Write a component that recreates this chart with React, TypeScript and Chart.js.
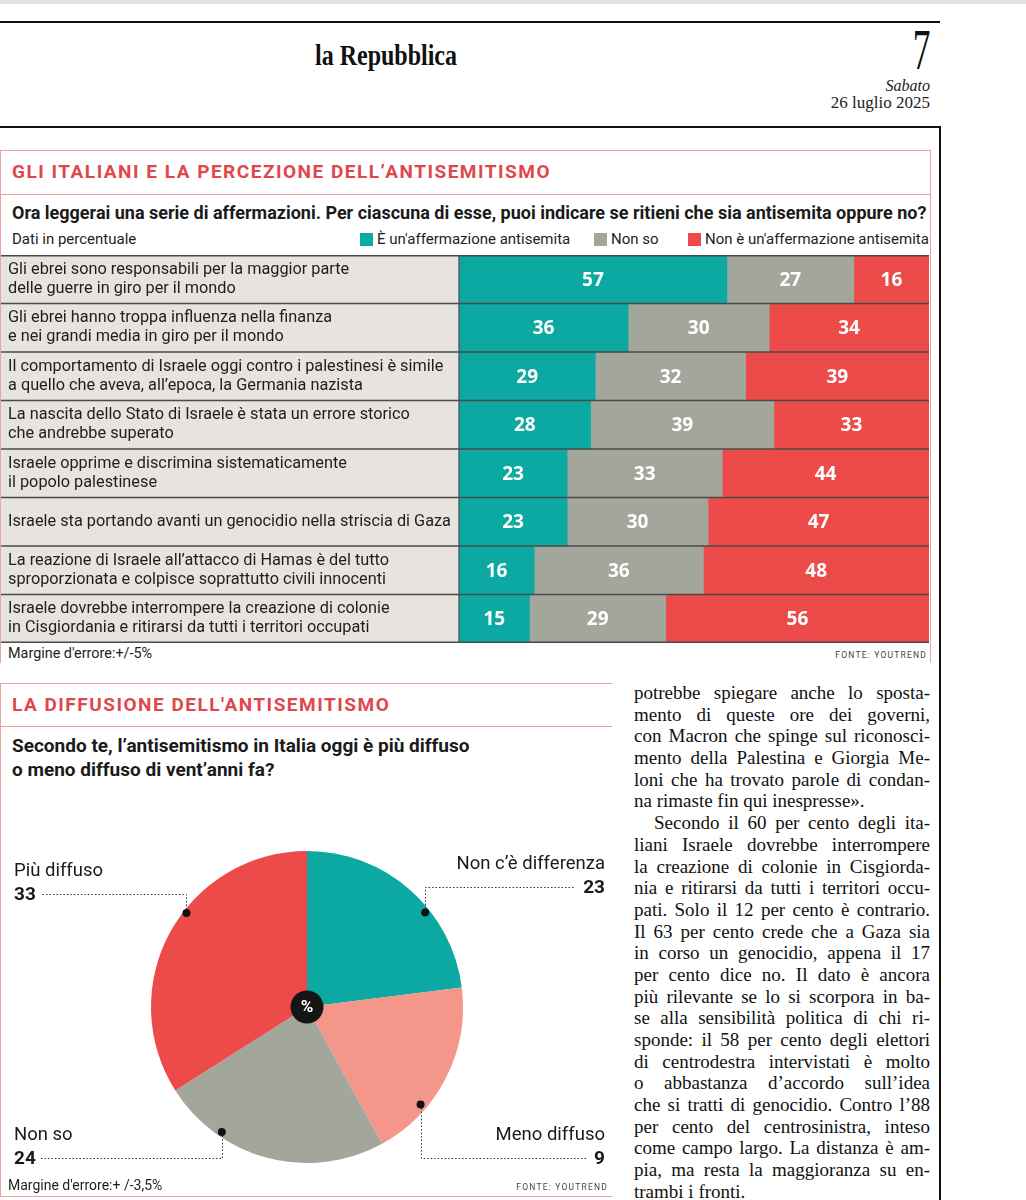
import React, { useEffect, useRef } from "react";
import { Chart, registerables } from "chart.js";

Chart.register(...registerables);

// ---------- DATA ----------
const statements: string[][] = [
  ["Gli ebrei sono responsabili per la maggior parte", "delle guerre in giro per il mondo"],
  ["Gli ebrei hanno troppa influenza nella finanza", "e nei grandi media in giro per il mondo"],
  ["Il comportamento di Israele oggi contro i palestinesi è simile", "a quello che aveva, all’epoca, la Germania nazista"],
  ["La nascita dello Stato di Israele è stata un errore storico", "che andrebbe superato"],
  ["Israele opprime e discrimina sistematicamente", "il popolo palestinese"],
  ["Israele sta portando avanti un genocidio nella striscia di Gaza"],
  ["La reazione di Israele all’attacco di Hamas è del tutto", "sproporzionata e colpisce soprattutto civili innocenti"],
  ["Israele dovrebbe interrompere la creazione di colonie", "in Cisgiordania e ritirarsi da tutti i territori occupati"],
];
const seriesNames = ["È un'affermazione antisemita", "Non so", "Non è un'affermazione antisemita"];
const antisemita = [57, 36, 29, 28, 23, 23, 16, 15];
const nonSo = [27, 30, 32, 39, 33, 30, 36, 29];
const nonAntisemita = [16, 34, 39, 33, 44, 47, 48, 56];

const pieCategories = ["Non c’è differenza", "Meno diffuso", "Non so", "Più diffuso"];
const piePrinted = [23, 9, 24, 33]; // numbers printed next to the slices
const pieDrawn = [23, 19, 24, 34]; // slice sizes as drawn in the graphic

const bodyLines = [
  "potrebbe spiegare anche lo sposta-",
  "mento di queste ore dei governi,",
  "con Macron che spinge sul riconosci-",
  "mento della Palestina e Giorgia Me-",
  "loni che ha trovato parole di condan-",
  "na rimaste fin qui inespresse».",
  "Secondo il 60 per cento degli ita-",
  "liani Israele dovrebbe interrompere",
  "la creazione di colonie in Cisgiorda-",
  "nia e ritirarsi da tutti i territori occu-",
  "pati. Solo il 12 per cento è contrario.",
  "Il 63 per cento crede che a Gaza sia",
  "in corso un genocidio, appena il 17",
  "per cento dice no. Il dato è ancora",
  "più rilevante se lo si scorpora in ba-",
  "se alla sensibilità politica di chi ri-",
  "sponde: il 58 per cento degli elettori",
  "di centrodestra intervistati è molto",
  "o abbastanza d’accordo sull’idea",
  "che si tratti di genocidio. Contro l’88",
  "per cento del centrosinistra, inteso",
  "come campo largo. La distanza è am-",
  "pia, ma resta la maggioranza su en-",
  "trambi i fronti.",
];
const paragraphEnds = [5, 23];
const paragraphStarts = [6];

// ---------- STYLES ----------
const TEAL = "#0ba9a1";
const GRAY = "#a3a69a";
const RED = "#ec4b4a";
const SALMON = "#f4978a";
const CELL = "#e7e3de";
const RULE = "#4a4a4a";
const PINK = "#e9a3a3";
const TITLE_RED = "#e0474c";
const SANS = "Roboto, 'Open Sans', sans-serif";
const SERIF = "'Liberation Serif', 'DejaVu Serif', serif";

// callout layout (side, fraction along arc, radius fraction, number line offset from centre)
const callouts = [
  { side: "right", frac: 0.62, rf: 0.97, dy: -120 },
  { side: "right", frac: 0.7, rf: 0.96, dy: 151 },
  { side: "left", frac: 0.73, rf: 0.97, dy: 151 },
  { side: "left", frac: 0.575, rf: 0.98, dy: -113 },
];

const barPlugin = {
  id: "barCells",
  beforeDraw(chart: any) {
    const { ctx, chartArea } = chart;
    ctx.save();
    ctx.fillStyle = CELL;
    ctx.fillRect(0, chartArea.top, chartArea.left, chartArea.bottom - chartArea.top);
    ctx.restore();
  },
  afterDatasetsDraw(chart: any) {
    const { ctx, chartArea, scales } = chart;
    const y = scales.y;
    ctx.save();
    // number labels
    ctx.fillStyle = "#ffffff";
    ctx.font = `bold 19px 'Open Sans', ${SANS}`;
    ctx.textAlign = "center";
    ctx.textBaseline = "middle";
    chart.data.datasets.forEach((ds: any, di: number) => {
      const meta = chart.getDatasetMeta(di);
      meta.data.forEach((el: any, i: number) => {
        const p = el.getProps(["x", "y", "base"], true);
        ctx.fillText(String(ds.data[i]), (p.x + p.base) / 2, p.y + 1);
      });
    });
    // rules
    ctx.strokeStyle = RULE;
    ctx.lineWidth = 1.5;
    const n = chart.data.labels.length;
    const ys: number[] = [chartArea.top + 0.75];
    for (let i = 0; i < n - 1; i++) {
      ys.push((y.getPixelForValue(i) + y.getPixelForValue(i + 1)) / 2);
    }
    ys.push(chartArea.bottom - 0.75);
    ys.forEach((yy) => {
      ctx.beginPath();
      ctx.moveTo(0, yy);
      ctx.lineTo(chartArea.right, yy);
      ctx.stroke();
    });
    ctx.lineWidth = 1.2;
    ctx.beginPath();
    ctx.moveTo(chartArea.left, chartArea.top);
    ctx.lineTo(chartArea.left, chartArea.bottom);
    ctx.stroke();
    ctx.restore();
  },
};

const piePlugin = {
  id: "pieCallouts",
  afterDraw(chart: any) {
    const { ctx } = chart;
    const meta = chart.getDatasetMeta(0);
    const W = chart.width;
    ctx.save();
    meta.data.forEach((arc: any, i: number) => {
      const p = arc.getProps(["x", "y", "startAngle", "endAngle", "outerRadius"], true);
      const c = callouts[i];
      const a = p.startAngle + c.frac * (p.endAngle - p.startAngle);
      const dx = p.x + Math.cos(a) * p.outerRadius * c.rf;
      const dyy = p.y + Math.sin(a) * p.outerRadius * c.rf;
      const ly = p.y + c.dy;
      const num = String(piePrinted[i]);
      ctx.font = `bold 19px ${SANS}`;
      const nw = ctx.measureText(num).width;
      const leftX = 14;
      const rightX = W - 7;
      // texts
      ctx.fillStyle = "#1a1a1a";
      ctx.textBaseline = "middle";
      ctx.textAlign = c.side === "left" ? "left" : "right";
      const tx = c.side === "left" ? leftX : rightX;
      ctx.fillText(num, tx, ly + 1);
      ctx.font = `18.5px ${SANS}`;
      ctx.fillText(pieCategories[i], tx, ly - 23);
      // leader
      ctx.strokeStyle = "#333";
      ctx.lineWidth = 1;
      ctx.setLineDash([1.5, 2]);
      ctx.beginPath();
      ctx.moveTo(Math.round(dx) + 0.5, dyy);
      ctx.lineTo(Math.round(dx) + 0.5, Math.round(ly) + 0.5);
      if (c.side === "left") ctx.lineTo(leftX + nw + 5, Math.round(ly) + 0.5);
      else ctx.lineTo(rightX - nw - 8, Math.round(ly) + 0.5);
      ctx.stroke();
      ctx.setLineDash([]);
      ctx.fillStyle = "#111";
      ctx.beginPath();
      ctx.arc(dx, dyy, 4, 0, Math.PI * 2);
      ctx.fill();
    });
    // centre badge
    const p0 = meta.data[0].getProps(["x", "y"], true);
    ctx.fillStyle = "#151515";
    ctx.beginPath();
    ctx.arc(p0.x, p0.y, 16.5, 0, Math.PI * 2);
    ctx.fill();
    ctx.fillStyle = "#fff";
    ctx.font = `bold 17px ${SANS}`;
    ctx.textAlign = "center";
    ctx.textBaseline = "middle";
    ctx.fillText("%", p0.x, p0.y + 1);
    ctx.restore();
  },
};

const abs = (o: React.CSSProperties): React.CSSProperties => ({ position: "absolute", ...o });

export default function App() {
  const barRef = useRef<HTMLCanvasElement>(null);
  const pieRef = useRef<HTMLCanvasElement>(null);

  useEffect(() => {
    const bar = new Chart(barRef.current as HTMLCanvasElement, {
      type: "bar",
      data: {
        labels: statements,
        datasets: [
          { label: seriesNames[0], data: antisemita, backgroundColor: TEAL },
          { label: seriesNames[1], data: nonSo, backgroundColor: GRAY },
          { label: seriesNames[2], data: nonAntisemita, backgroundColor: RED },
        ],
      },
      options: {
        indexAxis: "y",
        animation: false,
        responsive: false,
        maintainAspectRatio: false,
        layout: { padding: { left: 7, right: 1, top: 0, bottom: 0 } },
        datasets: { bar: { categoryPercentage: 1, barPercentage: 1, borderWidth: 0 } } as any,
        plugins: { legend: { display: false }, tooltip: { enabled: false } },
        scales: {
          x: { stacked: true, min: 0, max: 100, display: false },
          y: {
            stacked: true,
            grid: { display: false },
            border: { display: false },
            ticks: {
              crossAlign: "far",
              color: "#1e1e1e",
              autoSkip: false,
              font: { family: SANS, size: 16.3, lineHeight: 1.18 },
            },
            afterFit: (s: any) => {
              s.width = 451;
              s.paddingTop = 0;
              s.paddingBottom = 0;
            },
          } as any,
        },
      },
      plugins: [barPlugin],
    });

    const pie = new Chart(pieRef.current as HTMLCanvasElement, {
      type: "pie",
      data: {
        labels: pieCategories,
        datasets: [
          {
            data: pieDrawn,
            backgroundColor: [TEAL, SALMON, GRAY, RED],
            borderWidth: 0,
          },
        ],
      },
      options: {
        animation: false,
        responsive: false,
        maintainAspectRatio: false,
        layout: { padding: { left: 151, right: 149, top: 51, bottom: 37 } },
        plugins: { legend: { display: false }, tooltip: { enabled: false } },
      },
      plugins: [piePlugin],
    });

    return () => {
      bar.destroy();
      pie.destroy();
    };
  }, []);

  const line = (x: number, y: number, w: number, h: number, c: string) => (
    <div style={abs({ left: x, top: y, width: w, height: h, background: c })} />
  );

  return (
    <div
      style={abs({
        left: 0,
        top: 0,
        width: 1026,
        height: 1200,
        background: "#fff",
        overflow: "hidden",
        fontFamily: SANS,
        color: "#1e1e1e",
      })}
    >
      {line(0, 0, 1026, 4, "#e3e3e3")}
      {line(0, 21, 940, 2, "#111")}
      {line(0, 126, 940, 2, "#111")}
      {line(939, 126, 1.5, 1074, "#111")}

      {/* masthead */}
      <div
        style={abs({
          left: 386,
          top: 37,
          lineHeight: "36px",
          fontFamily: SERIF,
          fontWeight: "bold",
          fontSize: 30,
          whiteSpace: "nowrap",
          transform: "translateX(-50%) scaleX(0.8)",
          color: "#111",
        })}
      >
        la Repubblica
      </div>
      <div
        style={abs({
          right: 96,
          top: 21,
          fontFamily: SERIF,
          fontSize: 57,
          lineHeight: "57px",
          transform: "scaleX(0.62)",
          transformOrigin: "right center",
          color: "#111",
        })}
      >
        7
      </div>
      <div style={abs({ right: 96, top: 76, fontFamily: SERIF, fontStyle: "italic", fontSize: 16, lineHeight: "20px", color: "#222" })}>
        Sabato
      </div>
      <div
        style={abs({
          right: 96,
          top: 93,
          fontFamily: SERIF,
          fontSize: 17,
          lineHeight: "20px",
          color: "#222",
          whiteSpace: "nowrap",
        })}
      >
        26 luglio 2025
      </div>

      {/* chart 1 box */}
      <div style={abs({ left: 0, top: 150, width: 929, height: 512, borderTop: `1px solid ${PINK}`, borderLeft: `1px solid ${PINK}`, borderRight: `1px solid ${PINK}` })} />
      {line(0, 194, 931, 1, PINK)}
      <div style={abs({ left: 12, top: 161, lineHeight: "22px", fontSize: 19, fontWeight: "bold", color: TITLE_RED, letterSpacing: 1.5, whiteSpace: "nowrap" })}>
        GLI ITALIANI E LA PERCEZIONE DELL’ANTISEMITISMO
      </div>
      <div style={abs({ left: 12, top: 202, lineHeight: "22px", fontSize: 18, fontWeight: "bold", color: "#1a1a1a", whiteSpace: "nowrap" })}>
        Ora leggerai una serie di affermazioni. Per ciascuna di esse, puoi indicare se ritieni che sia antisemita oppure no?
      </div>
      <div style={abs({ left: 12, top: 229, lineHeight: "20px", fontSize: 15, whiteSpace: "nowrap" })}>Dati in percentuale</div>
      {[
        { x: 360, c: TEAL, t: seriesNames[0] },
        { x: 594, c: GRAY, t: seriesNames[1] },
        { x: 688, c: RED, t: seriesNames[2] },
      ].map((l) => (
        <div key={l.t} style={abs({ left: l.x, top: 229, height: 20, display: "flex", alignItems: "center", whiteSpace: "nowrap", fontSize: 15, lineHeight: "20px" })}>
          <span style={{ display: "inline-block", width: 13, height: 13, background: l.c, marginRight: 4 }} />
          {l.t}
        </div>
      ))}
      <canvas ref={barRef} width={929} height={388} style={abs({ left: 1, top: 255, width: 929, height: 388 })} />
      <div style={abs({ left: 8, top: 645, lineHeight: "18px", fontSize: 14.4, whiteSpace: "nowrap" })}>Margine d'errore:+/-5%</div>
      <div style={abs({ right: 1026 - 927, top: 648, lineHeight: "14px", fontSize: 8.5, letterSpacing: 1.2, color: "#444", whiteSpace: "nowrap" })}>
        FONTE: YOUTREND
      </div>

      {/* chart 2 box */}
      {line(0, 683, 612, 1, PINK)}
      {line(0, 683, 1, 514, PINK)}
      {line(0, 726, 612, 1, PINK)}
      {line(0, 1196, 612, 1, PINK)}
      <div style={abs({ left: 12, top: 694, lineHeight: "22px", fontSize: 19, fontWeight: "bold", color: TITLE_RED, letterSpacing: 1.5, whiteSpace: "nowrap" })}>
        LA DIFFUSIONE DELL'ANTISEMITISMO
      </div>
      <div style={abs({ left: 12, top: 734, lineHeight: "24px", fontSize: 19, fontWeight: "bold", color: "#1a1a1a", whiteSpace: "nowrap" })}>
        Secondo te, l’antisemitismo in Italia oggi è più diffuso
        <br />o meno diffuso di vent’anni fa?
      </div>
      <canvas ref={pieRef} width={612} height={400} style={abs({ left: 0, top: 800, width: 612, height: 400 })} />
      <div style={abs({ left: 8, top: 1176, lineHeight: "18px", fontSize: 14, whiteSpace: "nowrap" })}>Margine d'errore:+ /-3,5%</div>
      <div style={abs({ right: 1026 - 608, top: 1180, lineHeight: "14px", fontSize: 8.5, letterSpacing: 1.2, color: "#444", whiteSpace: "nowrap" })}>
        FONTE: YOUTREND
      </div>

      {/* article column */}
      <div style={abs({ left: 634, top: 682, width: 296, fontFamily: SERIF, fontSize: 19, color: "#111" })}>
        {bodyLines.map((t, i) => {
          const last = paragraphEnds.includes(i);
          const first = paragraphStarts.includes(i);
          return (
            <div
              key={i}
              style={{
                height: 21.7,
                lineHeight: "21.7px",
                whiteSpace: "nowrap",
                textAlign: last ? "left" : "justify",
                textAlignLast: last ? "left" : "justify",
                textIndent: first ? 20 : 0,
                overflow: "visible",
              }}
            >
              {t}
            </div>
          );
        })}
      </div>
    </div>
  );
}
